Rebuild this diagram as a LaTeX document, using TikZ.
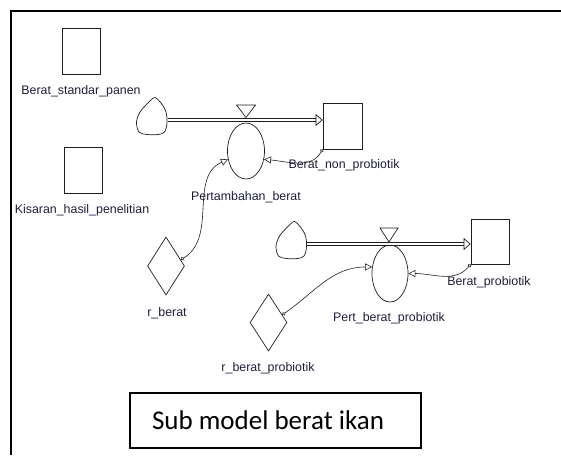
\documentclass[tikz,border=0pt]{standalone}
\usepackage{fontspec}
\usepackage{tikz}
\usetikzlibrary{positioning,shapes.geometric,arrows.meta}
\newfontfamily\stellafont{Liberation Sans}
\newfontfamily\calfont{Carlito}
\definecolor{lblcol}{RGB}{30,30,60}
\definecolor{linecol}{RGB}{30,30,30}

\tikzset{
  srccloud/.pic={
    \draw[linecol, line width=0.7pt] plot[smooth cycle, tension=0.55] coordinates
      {(3,22.5) (-1,20) (-6,15) (-12,8) (-15.5,-2) (-13,-12) (-5,-14.5) (6,-14.5) (12.5,-12) (15,-3) (14,8) (9,17)};
  }
}

\begin{document}
\begin{tikzpicture}[x=1pt, y=1pt,
    stock/.style={draw=linecol, line width=0.7pt, minimum width=38pt, minimum height=46pt, inner sep=0pt},
    rate/.style={draw=linecol, line width=0.7pt, ellipse, minimum width=37pt, minimum height=56pt, inner sep=0pt},
    conv/.style={draw=linecol, line width=0.7pt, diamond, minimum width=37pt, minimum height=58pt, inner sep=0pt},
    sink/.style={minimum width=31pt, minimum height=30pt, inner sep=0pt},
    lbl/.style={text=lblcol, font=\stellafont\fontsize{12.4}{14}\selectfont, inner sep=0pt},
    pipe/.style={draw=linecol, double, double distance=2pt, line width=0.7pt, -{Triangle[open, length=7pt, width=12pt]}},
    link/.style={draw=linecol, line width=0.6pt, {Circle[open, length=3.5pt]}-{Triangle[open, length=7pt, width=7pt]}},
    valve/.style={draw=linecol, line width=0.7pt}]
        \useasboundingbox (0,0) rectangle (561,455);
        \draw[line width=2.5pt] (11,0) -- (11,444) -- (561,444);

        \node[stock] (stdpanen) at (81,404) {};
        \node[lbl] (stdpanenlbl) at (81,364) {Berat\_standar\_panen};
        \node[stock] (kisaran) at (83,285) {};
        \node[lbl] (kisaranlbl) at (82,245) {Kisaran\_hasil\_penelitian};

        \node[sink] (cloud1) at (152,335) {};
        \pic at (cloud1.center) {srccloud};
        \node[rate] (pertambahan) at (246,304) {};
        \node[stock, minimum width=39pt] (nonprob) at (342.5,329) {};
        \node[conv] (rberat) at (166,189) {};
        \node[lbl] (nonproblbl) at (344,290) {Berat\_non\_probiotik};
        \node[lbl] (pertlbl) at (246,258) {Pertambahan\_berat};
        \node[lbl] (rberatlbl) at (167,142) {r\_berat};
        \draw[pipe] (cloud1.east) -- (cloud1.east -| nonprob.west);
        \draw[valve] (236.5,350) -- (255.5,350) -- (246,337.5) -- cycle;
        \draw[link] (rberat.23) to[out=31, in=204] (pertambahan.205);
        \draw[link] (nonprob.south west) to[out=240, in=355] (pertambahan.335);

        \node[sink] (cloud2) at (291.5,211) {};
        \pic at (cloud2.center) {srccloud};
        \node[rate, minimum width=36pt, minimum height=57pt] (probrate) at (390,181.5) {};
        \node[stock, minimum height=45pt] (prob) at (490,213.5) {};
        \node[conv, minimum height=57pt] (rberatpro) at (268.5,132.5) {};
        \node[lbl] (problbl) at (489,173) {Berat\_probiotik};
        \node[lbl] (pertproblbl) at (389,137) {Pert\_berat\_probiotik};
        \node[lbl] (rberatprolbl) at (268,87) {r\_berat\_probiotik};
        \draw[pipe] (cloud2.east) -- (cloud2.east -| prob.west);
        \draw[valve] (380,227) -- (398,227) -- (389,213) -- cycle;
        \draw[link] (rberatpro.29) to[out=35, in=180] (probrate.160);
        \draw[link] (prob.south west) to[out=230, in=0] (probrate.0);

        \node[draw, line width=1.3pt, minimum width=291pt, minimum height=55pt, inner sep=0pt, font=\calfont\fontsize{27}{30}\selectfont] (title) at (275.5,34.5) {\makebox[247pt][l]{Sub model berat ikan}};
\end{tikzpicture}
\end{document}
